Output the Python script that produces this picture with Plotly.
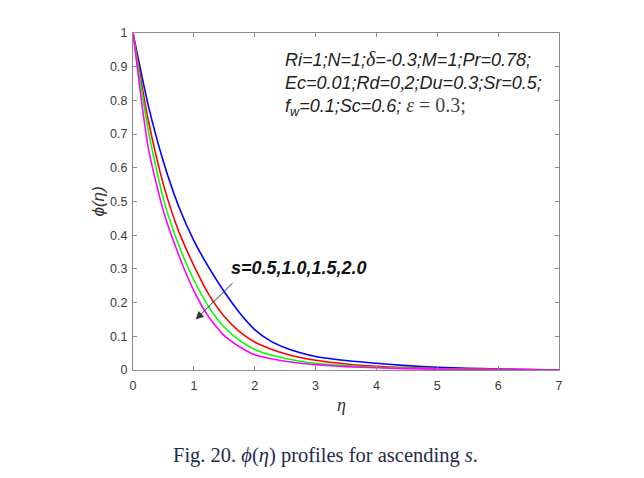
import plotly.graph_objects as go

eta = [0, 0.25, 0.5, 0.75, 1.0, 1.25, 1.5, 1.75, 2.0, 2.25, 2.5, 2.75, 3.0,
       3.5, 4.0, 4.5, 5.0, 5.5, 6.0, 6.5, 7.0]
phi_s05 = [1.0, 0.786, 0.618, 0.486, 0.384, 0.303, 0.232, 0.170, 0.120, 0.087, 0.066, 0.051, 0.040,
           0.028, 0.020, 0.013, 0.008, 0.005, 0.003, 0.0015, 0.0]
phi_s10 = [1.0, 0.742, 0.550, 0.412, 0.310, 0.223, 0.159, 0.114, 0.083, 0.063, 0.048, 0.037, 0.029,
           0.018, 0.011, 0.007, 0.0045, 0.003, 0.002, 0.001, 0.0]
phi_s15 = [1.0, 0.712, 0.507, 0.371, 0.267, 0.186, 0.127, 0.088, 0.061, 0.045, 0.034, 0.026, 0.020,
           0.013, 0.008, 0.0055, 0.0035, 0.0022, 0.0013, 0.0006, 0.0]
phi_s20 = [1.0, 0.660, 0.472, 0.342, 0.235, 0.156, 0.102, 0.069, 0.045, 0.034, 0.026, 0.020, 0.016,
           0.010, 0.0065, 0.0042, 0.0027, 0.0017, 0.001, 0.0005, 0.0]

series = [("s=0.5", phi_s05, "#0000ff"), ("s=1.0", phi_s10, "#ff0000"),
          ("s=1.5", phi_s15, "#00ff00"), ("s=2.0", phi_s20, "#ff00ff")]

x_ticks = [0, 1, 2, 3, 4, 5, 6, 7]
y_ticks = [0, 0.1, 0.2, 0.3, 0.4, 0.5, 0.6, 0.7, 0.8, 0.9, 1]
y_ticktext = ["0", "0.1", "0.2", "0.3", "0.4", "0.5", "0.6", "0.7", "0.8", "0.9", "1"]

fig = go.Figure()
for name, vals, col in series:
    fig.add_trace(go.Scatter(x=eta, y=vals, mode="lines", name=name,
                             line=dict(color=col, width=1.6, shape="spline", smoothing=0.6)))

axis_common = dict(showgrid=False, zeroline=False, showline=True, linecolor="#8c8c8c", linewidth=1,
                   mirror="ticks", ticks="inside", ticklen=4, tickcolor="#8c8c8c",
                   tickfont=dict(family="Liberation Sans, Arial", size=12.5, color="#3a3a3a"))

fig.update_xaxes(range=[0, 7], tickvals=x_ticks, ticklabelstandoff=4, **axis_common)
fig.update_yaxes(range=[0, 1], tickvals=y_ticks, ticktext=y_ticktext, ticklabelstandoff=2, **axis_common)

ann = []
ann.append(dict(x=0.489, y=-0.104, xref="paper", yref="paper", xanchor="center", yanchor="middle",
                showarrow=False, text="<i>η</i>",
                font=dict(family="Liberation Serif", size=18, color="#333")))
ann.append(dict(x=-0.082, y=0.5, xref="paper", yref="paper", xanchor="center", yanchor="middle",
                showarrow=False, textangle=-90, text="<i>ϕ(η)</i>",
                font=dict(family="Liberation Sans", size=17, color="#333")))
txt_font = dict(family="Liberation Sans, Arial", size=18, color="#222")
ser = "font-family:Liberation Serif"
lines = [
    ("<i>Ri=1;N=1;</i><span style='%s;font-size:20px'><i>δ</i></span>"
     "<i>=-0.3;M=1;Pr=0.78;</i>" % ser),
    "<i>Ec=0.01;Rd=0</i><span style='%s'>,</span><i>2;Du=0.3;Sr=0.5;</i>" % ser,
    ("<i>f</i><sub><i>w</i></sub><i>=0.1;Sc=0.6;</i>"
     "<span style='%s;font-size:20px;fill:#444'>&nbsp;<i>ε</i>&nbsp;=&nbsp;0.3;</span>" % ser),
]
ys = [0.923, 0.853, 0.783]
for t, yy in zip(lines, ys):
    ann.append(dict(x=0.352, y=yy, xref="paper", yref="paper", xanchor="left", yanchor="middle",
                    showarrow=False, text=t, font=txt_font))
ann.append(dict(x=1.03, y=0.150, ax=1.66, ay=0.262, xref="x", yref="y", axref="x", ayref="y",
                showarrow=True, arrowhead=2, arrowsize=1.6, arrowwidth=1, arrowcolor="#333", text=""))
ann.append(dict(x=1.575, y=0.304, xref="x", yref="y", xanchor="left", yanchor="middle", showarrow=False,
                text="<b><i>s=0.5,1.0,1.5,2.0</i></b>",
                font=dict(family="Liberation Sans, Arial", size=18, color="#111")))
ann.append(dict(x=0.451, y=-0.255, xref="paper", yref="paper", xanchor="center", yanchor="middle",
                showarrow=False,
                text="Fig. 20. <i>ϕ</i>(<i>η</i>) profiles for ascending <i>s</i>.",
                font=dict(family="Liberation Serif, Times New Roman", size=20.5, color="#1f2a4a")))

fig.update_layout(width=636, height=470, margin=dict(l=125, r=85, t=25, b=108),
                  paper_bgcolor="white", plot_bgcolor="white", showlegend=False,
                  annotations=ann)
fig.write_html("out.html")
